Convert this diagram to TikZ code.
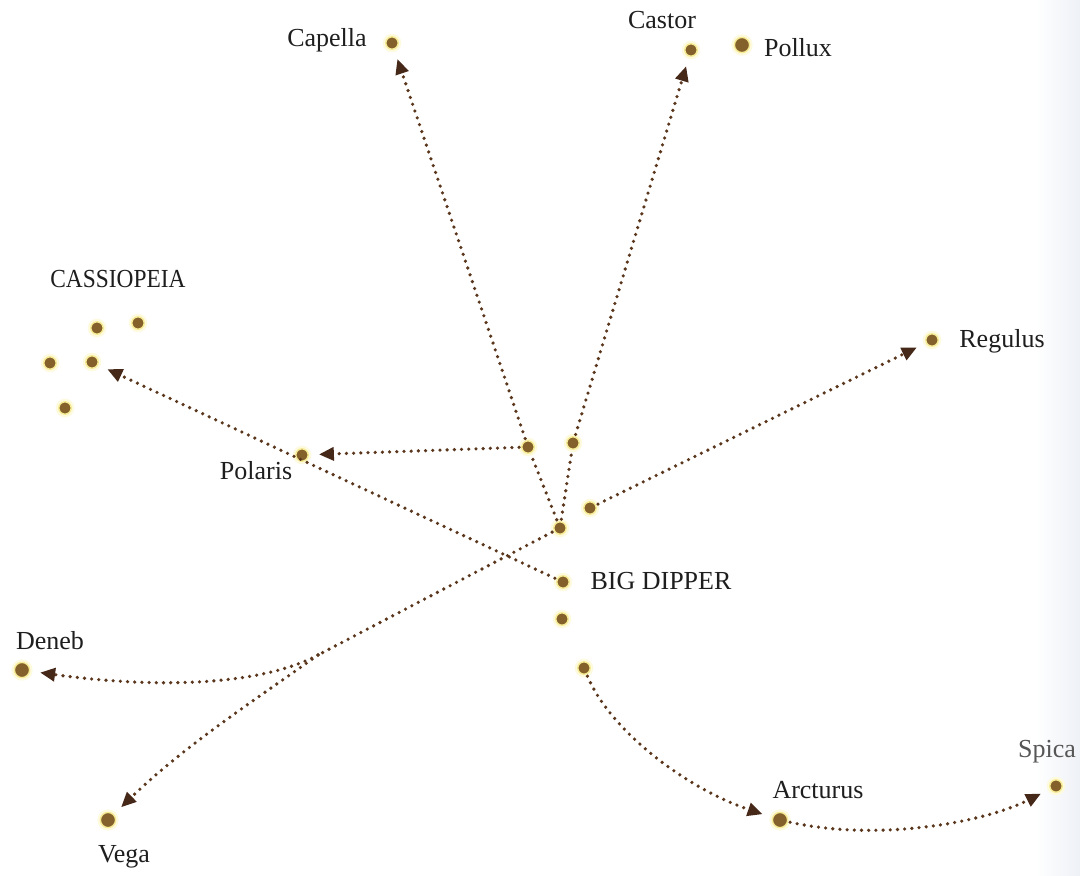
\documentclass[tikz,border=0pt]{standalone}
\usepackage{fontspec}
\usepackage{graphicx}
\setmainfont{Liberation Serif}
\usetikzlibrary{arrows.meta}
\definecolor{starbrown}{RGB}{132,96,42}
\definecolor{glowA}{RGB}{246,236,150}
\definecolor{glowB}{RGB}{253,250,222}
\definecolor{dotline}{RGB}{90,55,28}
\definecolor{tipcol}{RGB}{70,40,25}
\definecolor{labelcol}{RGB}{30,30,30}
\definecolor{edgetint}{RGB}{238,241,246}
\begin{document}
\begin{tikzpicture}[x=0.5pt,y=-0.5pt,
  star/.style={circle,inner sep=0pt,minimum size=6.2pt,fill=starbrown,draw=glowA,line width=0.7pt,preaction={draw=glowB,line width=3pt}},
  bigstar/.style={star,minimum size=7.6pt},
  lbl/.style={text=labelcol,font=\fontsize{13}{15}\selectfont,inner sep=0pt},
  link/.style={draw=dotline,line width=1.8pt,line cap=round,dash pattern=on 0pt off 3.6pt,shorten <=1pt},
  arr/.style={link,-{Triangle[length=7.5pt,width=6.5pt,fill=tipcol,color=tipcol]},shorten >=5pt},
]
\useasboundingbox (0,0) rectangle (1080,875);
\fill[white] (0,0) rectangle (1080,875);
\fill[left color=white,right color=edgetint] (1035,0) rectangle (1080,875);

% stars
\node[star] (capella) at (392,43) {};
\node[star] (castor) at (691,50) {};
\node[bigstar] (pollux) at (742,45) {};
\node[star] (cas1) at (97,328) {};
\node[star] (cas2) at (138,323) {};
\node[star] (cas3) at (50,363) {};
\node[star] (cas4) at (92,362) {};
\node[star] (cas5) at (65,408) {};
\node[star] (polaris) at (302,455) {};
\node[star] (regulus) at (932,340) {};
\node[star] (bd1) at (528,447) {};
\node[star] (bd2) at (573,443) {};
\node[star] (bd3) at (590,508) {};
\node[star] (bd4) at (560,528) {};
\node[star] (bd5) at (563,582) {};
\node[star] (bd6) at (562,619) {};
\node[star] (bd7) at (584,668) {};
\node[bigstar] (deneb) at (22,670) {};
\node[bigstar] (vega) at (108,820) {};
\node[bigstar] (arcturus) at (780,820) {};
\node[star] (spica) at (1056,786) {};
\coordinate (split) at (318,655);

% labels
\node[lbl] (lcapella) at (327,40) {Capella};
\node[lbl] (lcastor) at (662,20) {Castor};
\node[lbl] (lpollux) at (798,48) {Pollux};
\node[lbl] (lcas) at (118,279) {\scalebox{0.9}[1]{CASSIOPEIA}};
\node[lbl] (lpolaris) at (256,471) {Polaris};
\node[lbl] (lregulus) at (1002,341) {Regulus};
\node[lbl] (lbd) at (661,581) {BIG DIPPER};
\node[lbl] (ldeneb) at (50,641) {Deneb};
\node[lbl] (lvega) at (124,857) {Vega};
\node[lbl] (larcturus) at (818,790) {Arcturus};
\node[lbl,text=labelcol!75] (lspica) at (1047,752) {Spica};

% connectors
\draw[link] (bd4) -- (bd1);
\draw[arr] (bd1) -- (capella);
\draw[link] (bd4) -- (bd2);
\draw[arr] (bd2) -- (castor);
\draw[arr] (bd1) -- (polaris);
\draw[arr] (bd5) -- (cas4);
\draw[arr] (bd3) -- (regulus);
\draw[link] (bd4) -- (split);
\draw[arr,shorten <=0pt] (split) .. controls (258,687) and (150,688) .. (deneb);
\draw[arr,shorten <=0pt] (split) .. controls (265,693) and (185,745) .. (vega);
\draw[arr] (bd7) .. controls (610,730) and (685,788) .. (arcturus);
\draw[arr] (arcturus) .. controls (880,842) and (985,822) .. (spica);
\end{tikzpicture}
\end{document}
